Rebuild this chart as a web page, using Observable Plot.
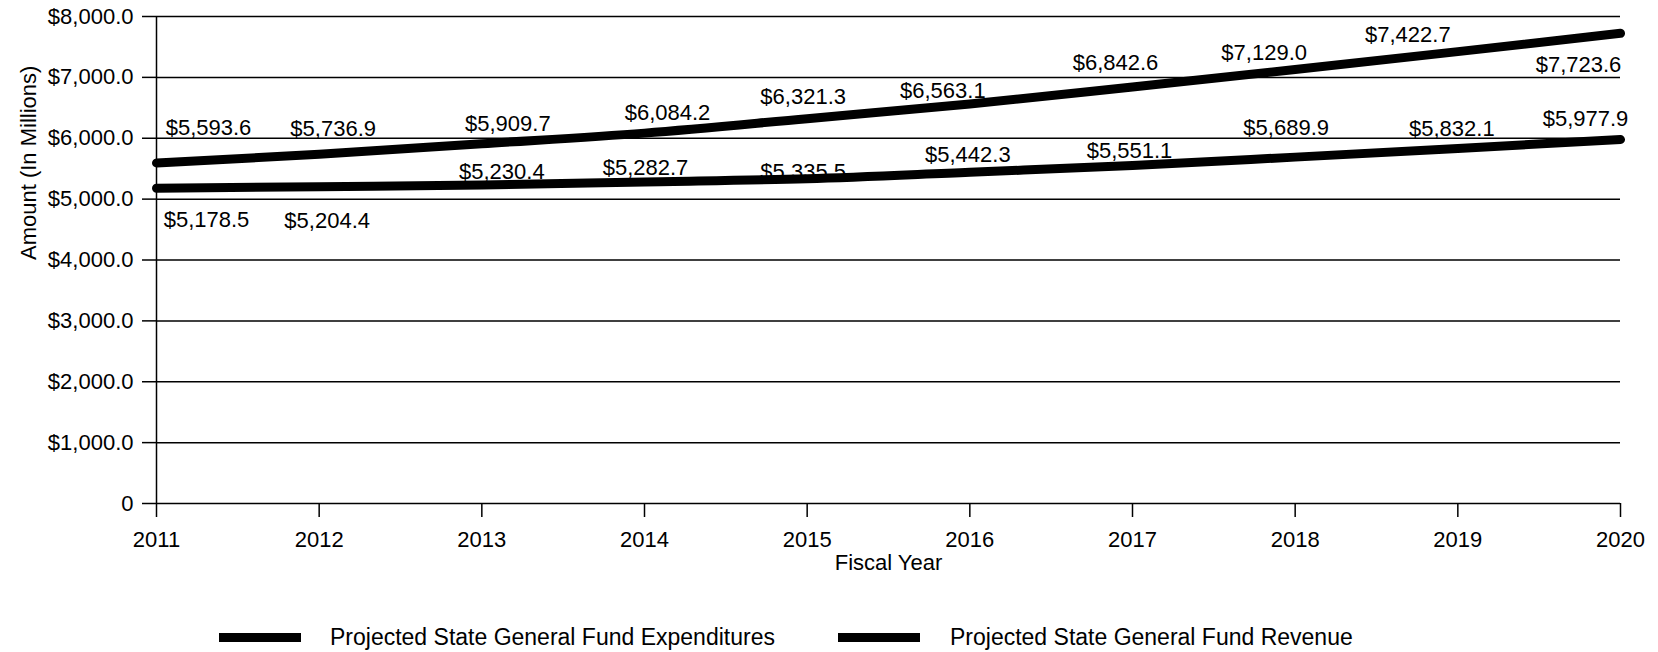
<!DOCTYPE html>
<html>
<head>
<meta charset="utf-8">
<script src="https://cdn.jsdelivr.net/npm/d3@7"></script>
<script src="https://cdn.jsdelivr.net/npm/@observablehq/plot@0.6"></script>
<style>
  html, body { margin: 0; padding: 0; background: #fff; }
  #wrap { position: relative; width: 1658px; height: 652px; font-family: "Liberation Sans", Arial, sans-serif; }
  #legend { position: absolute; left: 0; top: 600px; width: 1658px; height: 52px; }
  .sw { position: absolute; height: 9px; background: #000; top: 33px; }
  .lt { position: absolute; top: 37px; transform: translateY(-50%); font-size: 23px; color: #000; white-space: nowrap; line-height: 1; }
</style>
</head>
<body>
<div id="wrap">
  <div id="chart"></div>
  <div id="legend"></div>
</div>
<script>
const years = [2011, 2012, 2013, 2014, 2015, 2016, 2017, 2018, 2019, 2020];
const expenditures = [5593.6, 5736.9, 5909.7, 6084.2, 6321.3, 6563.1, 6842.6, 7129.0, 7422.7, 7723.6];
const revenue = [5178.5, 5204.4, 5230.4, 5282.7, 5335.5, 5442.3, 5551.1, 5689.9, 5832.1, 5977.9];
const yTicks = [0, 1000, 2000, 3000, 4000, 5000, 6000, 7000, 8000];
const seriesNames = ["Projected State General Fund Expenditures", "Projected State General Fund Revenue"];

// label offsets (layout, in px) relative to each data point
const expLabelOffsets = [[52,-35],[14,-25],[26,-20],[23,-20],[-4,-22],[-27,-13],[-17,-24],[-31,-17],[-50,-17],[-42,32]];
const revLabelOffsets = [[50,32],[8,34],[20,-13],[1,-14],[-4,-7],[-2,-17],[-3,-15],[-9,-29],[-6,-20],[-35,-21]];

const fmt = d3.format(",.1f");
const money = v => "$" + fmt(v);
const FS = 22;

const expData = years.map((y, i) => ({year: y, value: expenditures[i], series: seriesNames[0]}));
const revData = years.map((y, i) => ({year: y, value: revenue[i], series: seriesNames[1]}));

const labelMarks = [];
expData.forEach((d, i) => {
  labelMarks.push(Plot.text([d], {x: "year", y: "value", text: d => money(d.value), dx: expLabelOffsets[i][0], dy: expLabelOffsets[i][1], fill: "#000", fontSize: FS}));
});
revData.forEach((d, i) => {
  labelMarks.push(Plot.text([d], {x: "year", y: "value", text: d => money(d.value), dx: revLabelOffsets[i][0], dy: revLabelOffsets[i][1], fill: "#000", fontSize: FS}));
});

const chart = Plot.plot({
  width: 1658,
  height: 600,
  marginTop: 16,
  marginBottom: 97,
  marginLeft: 156,
  marginRight: 38,
  style: {fontFamily: '"Liberation Sans", Arial, sans-serif', fontSize: FS + "px", background: "#fff", color: "#000"},
  x: {domain: [years[0], years[years.length - 1]]},
  y: {domain: [0, 8000]},
  marks: [
    Plot.ruleY(yTicks, {stroke: "#000", strokeWidth: 1.5}),
    Plot.ruleX([years[0]], {y1: 0, y2: 8000, stroke: "#000", strokeWidth: 1.5}),
    Plot.axisY({ticks: yTicks, tickFormat: d => d === 0 ? "0" : money(d), tickSize: 14, tickPadding: 9, stroke: "#000", strokeWidth: 1.5, label: null, fontSize: FS}),
    Plot.axisX({ticks: years, tickFormat: d => String(d), tickSize: 14, tickPadding: 14, stroke: "#000", strokeWidth: 1.5, label: null, fontSize: FS}),
    Plot.line(expData, {x: "year", y: "value", stroke: "#000", strokeWidth: 9, curve: "monotone-x"}),
    Plot.line(revData, {x: "year", y: "value", stroke: "#000", strokeWidth: 9, curve: "monotone-x"}),
    ...labelMarks,
    Plot.text(["Amount (In Millions)"], {frameAnchor: "left", rotate: -90, dx: -128, fill: "#000", fontSize: FS}),
    Plot.text(["Fiscal Year"], {frameAnchor: "bottom", dy: 66, fill: "#000", fontSize: FS})
  ]
});
document.getElementById("chart").appendChild(chart);

const legend = document.getElementById("legend");
const legendItems = [
  {name: seriesNames[0], swLeft: 219, textLeft: 330},
  {name: seriesNames[1], swLeft: 838, textLeft: 950}
];
legendItems.forEach(it => {
  const sw = document.createElement("div");
  sw.className = "sw";
  sw.style.left = it.swLeft + "px";
  sw.style.width = "82px";
  legend.appendChild(sw);
  const t = document.createElement("div");
  t.className = "lt";
  t.style.left = it.textLeft + "px";
  t.textContent = it.name;
  legend.appendChild(t);
});
</script>
</body>
</html>
